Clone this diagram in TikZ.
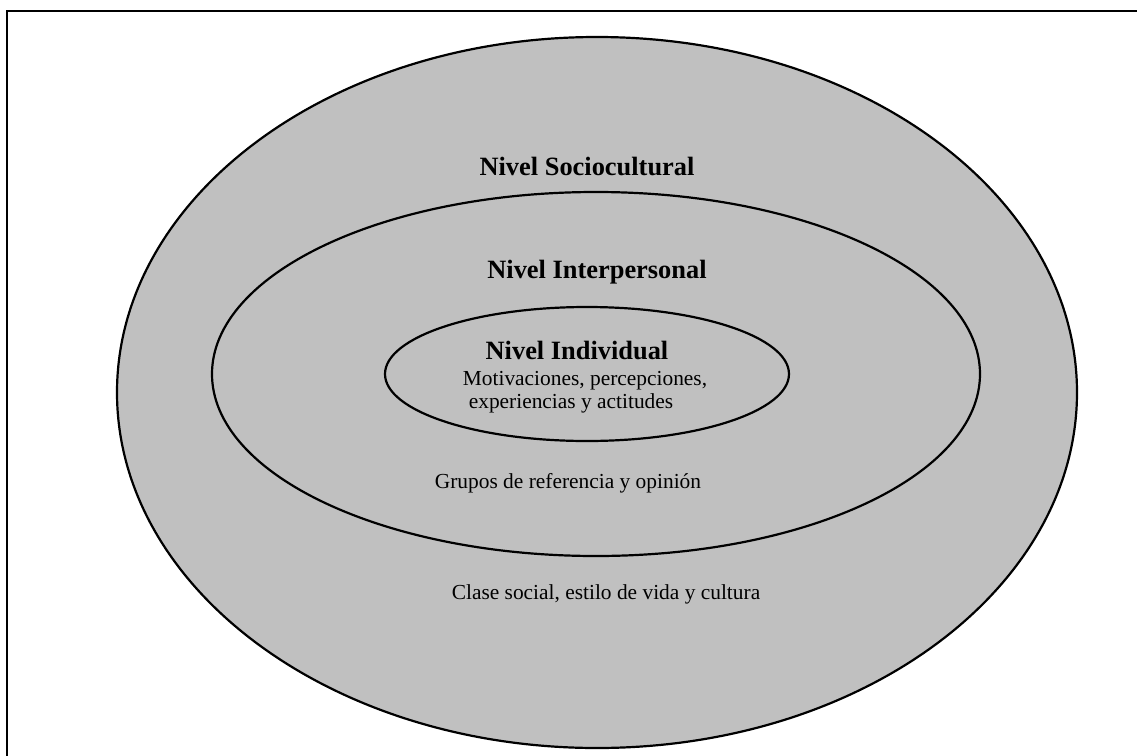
\documentclass[tikz,border=0pt]{standalone}
\usepackage{fontspec}
\setmainfont{Liberation Serif}
\usetikzlibrary{shapes.geometric}
\definecolor{ringgrey}{HTML}{C0C0C0}
\tikzset{
  ring/.style={ellipse, draw=black, fill=ringgrey, line width=1.1pt, inner sep=0pt},
  leveltitle/.style={anchor=base, inner sep=0pt, font=\fontsize{13.2pt}{15pt}\selectfont\bfseries},
  levelnote/.style={anchor=base, inner sep=0pt, font=\fontsize{10.7pt}{13pt}\selectfont},
  frameline/.style={line width=1pt}
}
\begin{document}
\begin{tikzpicture}[x=0.5pt, y=-0.5pt]
\useasboundingbox (0,0) rectangle (1137,756);
% open frame: top and left edges only
\coordinate (fbl) at (7,756);
\coordinate (ftl) at (7,11);
\coordinate (ftr) at (1137,11);
\draw[frameline] (fbl) -- (ftl) -- (ftr);
% three nested levels
\node[ring, minimum width=480pt, minimum height=355.5pt] (outer) at (597,392.5) {};
\node[ring, minimum width=384pt, minimum height=182pt] (middle) at (596,374) {};
\node[ring, minimum width=202pt, minimum height=67pt] (inner) at (587,374) {};
% labels
\node[leveltitle] (tsocio) at (587,175) {Nivel Sociocultural};
\node[leveltitle] (tinter) at (597,278) {Nivel Interpersonal};
\node[leveltitle] (tindiv) at (577,359) {Nivel Individual};
\node[levelnote] (nmot) at (585,385) {Motivaciones, percepciones,};
\node[levelnote] (nexp) at (571,408) {experiencias y actitudes};
\node[levelnote] (ngrp) at (568,488) {Grupos de referencia y opinión};
\node[levelnote] (ncls) at (606,599) {Clase social, estilo de vida y cultura};
\end{tikzpicture}
\end{document}
